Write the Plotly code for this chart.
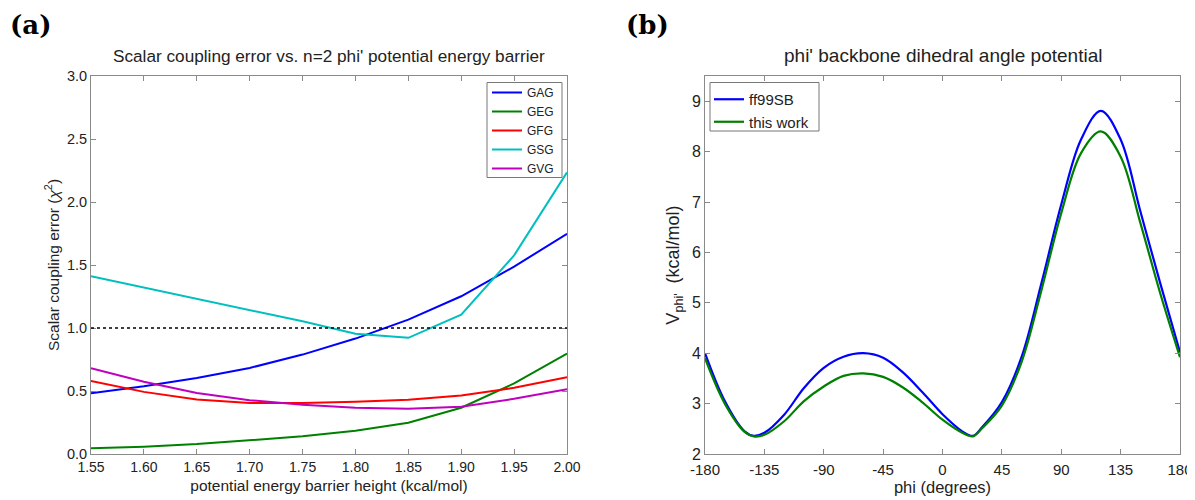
import plotly.graph_objects as go

# ---------------- Panel (a) data ----------------
barrier = [1.55, 1.60, 1.65, 1.70, 1.75, 1.80, 1.85, 1.90, 1.95, 2.00]
gag = [0.483, 0.538, 0.604, 0.683, 0.789, 0.916, 1.066, 1.252, 1.487, 1.748]
geg = [0.045, 0.058, 0.079, 0.108, 0.140, 0.185, 0.248, 0.367, 0.560, 0.797]
gfg = [0.580, 0.493, 0.433, 0.404, 0.404, 0.414, 0.430, 0.464, 0.525, 0.610]
gsg = [1.410, 1.320, 1.233, 1.143, 1.053, 0.955, 0.922, 1.106, 1.577, 2.235]
gvg = [0.680, 0.573, 0.485, 0.427, 0.390, 0.367, 0.359, 0.375, 0.438, 0.515]
series_a = [("GAG", gag, "#0000FF"), ("GEG", geg, "#008000"), ("GFG", gfg, "#FF0000"),
            ("GSG", gsg, "#00BFBF"), ("GVG", gvg, "#BF00BF")]
threshold = 1.0

# ---------------- Panel (b) data ----------------
phi = [-180, -165, -150, -143, -135, -120, -105, -90, -75, -60, -45, -30, -15, 0,
       15, 23, 30, 45, 60, 75, 90, 105, 120, 135, 150, 165, 180]
ff99sb = [4.00, 3.05, 2.45, 2.36, 2.42, 2.78, 3.31, 3.71, 3.93, 4.00, 3.91, 3.62, 3.22, 2.79,
          2.45, 2.36, 2.53, 3.03, 3.93, 5.39, 6.95, 8.24, 8.81, 8.24, 6.81, 5.39, 4.02]
this_work = [3.90, 3.00, 2.44, 2.35, 2.38, 2.65, 3.05, 3.34, 3.55, 3.60, 3.53, 3.32, 3.02, 2.68,
             2.42, 2.35, 2.51, 2.96, 3.83, 5.25, 6.78, 7.97, 8.40, 7.90, 6.58, 5.19, 3.92]
x_ticks_b = [-180, -135, -90, -45, 0, 45, 90, 135, 180]
x_ticklabels_b = [str(v) for v in x_ticks_b]

# the page body adds an 8 px margin, so the figure is sized to fit the window
OFF = 8
W, H = 1195 - OFF, 500 - OFF
FONT = "Liberation Sans, Arial, Helvetica, sans-serif"
TXT = "#222222"
AX = "#8a8a8a"


def px_x(p):
    """screen pixel x -> paper fraction"""
    return (p - OFF) / W


def px_y(p):
    """screen pixel y (from top) -> paper fraction"""
    return 1 - (p - OFF) / H


fig = go.Figure()
for name, vals, col in series_a:
    fig.add_trace(go.Scatter(x=barrier, y=vals, mode="lines", name=name,
                             line=dict(color=col, width=2), xaxis="x", yaxis="y",
                             legend="legend"))

fig.add_trace(go.Scatter(x=phi, y=ff99sb, mode="lines", name="ff99SB",
                         line=dict(color="#0000FF", width=2.2, shape="spline", smoothing=1.0),
                         xaxis="x2", yaxis="y2", legend="legend2"))
fig.add_trace(go.Scatter(x=phi, y=this_work, mode="lines", name="this work",
                         line=dict(color="#008000", width=2.2, shape="spline", smoothing=1.0),
                         xaxis="x2", yaxis="y2", legend="legend2"))

fig.add_shape(type="line", xref="x domain", yref="y", x0=0, x1=1, y0=threshold, y1=threshold,
              line=dict(color="black", width=1.5, dash="dot"))

# legend frames (MATLAB style boxes)
for (x0, y0, x1, y1) in [(487, 82.5, 562, 177.5), (710, 82.5, 819, 131)]:
    fig.add_shape(type="rect", xref="paper", yref="paper", layer="above",
                  x0=px_x(x0), x1=px_x(x1), y0=px_y(y1), y1=px_y(y0),
                  fillcolor="white", line=dict(color="#777777", width=1))


def axis(size, **kw):
    d = dict(showline=True, linecolor=AX, linewidth=1, mirror="ticks", ticks="inside",
             ticklen=5, tickcolor=AX, showgrid=False, zeroline=False, automargin=False,
             ticklabeloverflow="allow",
             tickfont=dict(size=size, family=FONT, color=TXT))
    d.update(kw)
    return d


fig.update_layout(
    width=W, height=H, margin=dict(l=0, r=0, t=0, b=0, autoexpand=False),
    paper_bgcolor="white", plot_bgcolor="white",
    font=dict(family=FONT, color=TXT),
    xaxis=axis(14, domain=[px_x(91), px_x(567)], range=[1.55, 2.00], dtick=0.05,
               tickformat=".2f", anchor="y",
               title=dict(text="potential energy barrier height (kcal/mol)",
                          font=dict(size=15.5, family=FONT, color=TXT), standoff=6)),
    yaxis=axis(14.5, domain=[px_y(454), px_y(76)], range=[0, 3.0], dtick=0.5,
               tickformat=".1f", anchor="x",
               title=dict(text="Scalar coupling error (<i>χ</i><sup>2</sup>)",
                          font=dict(size=15.5, family=FONT, color=TXT), standoff=3)),
    xaxis2=axis(15, domain=[px_x(705), px_x(1180)], range=[-180, 180], tickvals=x_ticks_b,
                ticktext=x_ticklabels_b, anchor="y2", ticklabelstandoff=2,
                title=dict(text="phi (degrees)",
                           font=dict(size=16.5, family=FONT, color=TXT), standoff=0)),
    yaxis2=axis(16, domain=[px_y(454), px_y(76)], range=[2, 9.5], dtick=1, anchor="x2",
                title=dict(text="V<sub>phi'</sub>  (kcal/mol)",
                           font=dict(size=18, family=FONT, color=TXT), standoff=7)),
    legend=dict(x=px_x(487), y=px_y(78), xanchor="left", yanchor="top",
                bgcolor="rgba(0,0,0,0)", borderwidth=0,
                font=dict(size=12, family=FONT, color=TXT), tracegroupgap=0,
                itemwidth=30),
    legend2=dict(x=px_x(709), y=px_y(83), xanchor="left", yanchor="top",
                 bgcolor="rgba(0,0,0,0)", borderwidth=0,
                 font=dict(size=15, family=FONT, color=TXT), itemwidth=30),
    annotations=[
        dict(text="<b>(a)</b>", x=px_x(8), y=px_y(25), xref="paper", yref="paper",
             xanchor="left", yanchor="middle", showarrow=False,
             font=dict(size=26, family="DejaVu Serif, Liberation Serif, serif", color="black")),
        dict(text="<b>(b)</b>", x=px_x(624), y=px_y(25), xref="paper", yref="paper",
             xanchor="left", yanchor="middle", showarrow=False,
             font=dict(size=26, family="DejaVu Serif, Liberation Serif, serif", color="black")),
        dict(text="Scalar coupling error vs. n=2 phi' potential energy barrier",
             x=px_x(329), y=px_y(56), xref="paper", yref="paper", xanchor="center",
             yanchor="middle", showarrow=False, font=dict(size=17.2, family=FONT, color=TXT)),
        dict(text="phi' backbone dihedral angle potential",
             x=px_x(943), y=px_y(56), xref="paper", yref="paper", xanchor="center",
             yanchor="middle", showarrow=False, font=dict(size=19, family=FONT, color=TXT)),
    ],
)

fig.write_html("out.html")
